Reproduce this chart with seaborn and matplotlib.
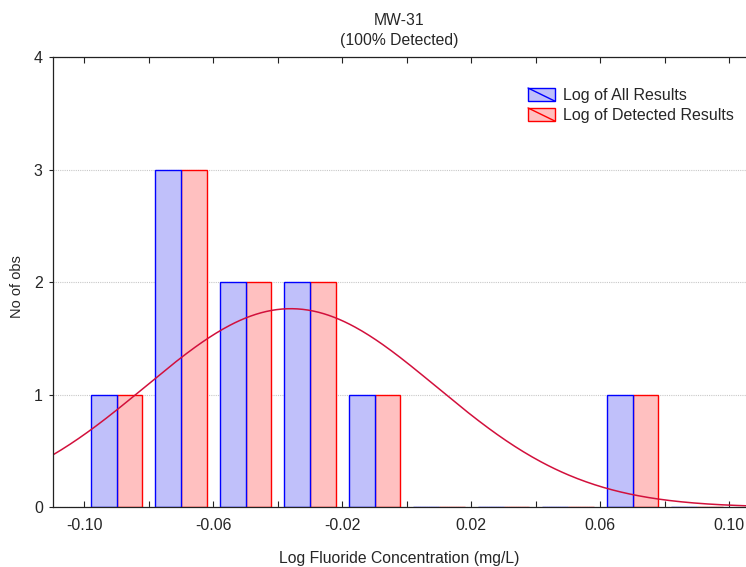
import numpy as np
import pandas as pd
import matplotlib.pyplot as plt
import seaborn as sns
from matplotlib.patches import Rectangle
from matplotlib.lines import Line2D
from matplotlib.legend_handler import HandlerPatch
from matplotlib.ticker import FixedLocator

# histogram bins (log10 fluoride, mg/L) and counts
bin_edges = [-0.10, -0.08, -0.06, -0.04, -0.02, 0.00, 0.02, 0.04, 0.06, 0.08, 0.10]
all_counts = [1, 3, 2, 2, 1, 0, 0, 0, 1, 0]
detected_counts = [1, 3, 2, 2, 1, 0, 0, 0, 1, 0]
series_names = ['Log of All Results', 'Log of Detected Results']

# fitted normal curve
fit_mean = -0.036
fit_sd = 0.0452
n_obs = 10

major_ticks = [-0.10, -0.06, -0.02, 0.02, 0.06, 0.10]
minor_ticks = [-0.08, -0.04, 0.00, 0.04, 0.08]
y_ticks = [0, 1, 2, 3, 4]

fill_colors = {series_names[0]: '#c0c0fa', series_names[1]: '#ffc0c0'}
edge_colors = {series_names[0]: '#0000ff', series_names[1]: '#ff0000'}

centers = [(a + b) / 2 for a, b in zip(bin_edges[:-1], bin_edges[1:])]
df = pd.DataFrame({
    'x': centers * 2,
    'count': all_counts + detected_counts,
    'series': [series_names[0]] * len(centers) + [series_names[1]] * len(centers),
})

sns.set_theme(style='white')
plt.rcParams['font.family'] = ['Liberation Sans', 'DejaVu Sans']
plt.rcParams['axes.unicode_minus'] = False

fig = plt.figure(figsize=(7.46, 5.67), dpi=100)
ax = fig.add_axes([0.0704, 0.1053, 1 - 0.0704, 0.899 - 0.1053])

sns.histplot(data=df, x='x', weights='count', hue='series', bins=bin_edges,
             multiple='dodge', shrink=0.8, palette=fill_colors, alpha=1,
             linewidth=1, legend=False, ax=ax, hue_order=series_names)

# edge colour per series
inv = {tuple(np.round(plt.matplotlib.colors.to_rgb(c), 3)): edge_colors[k] for k, c in fill_colors.items()}
for p in ax.patches:
    key = tuple(np.round(p.get_facecolor()[:3], 3))
    if key in inv:
        p.set_edgecolor(inv[key])

xlim = (-0.1099, 0.1052)
xs = np.linspace(xlim[0], xlim[1], 400)
ys = n_obs * 0.02 / (fit_sd * np.sqrt(2 * np.pi)) * np.exp(-0.5 * ((xs - fit_mean) / fit_sd) ** 2)
sns.lineplot(x=xs, y=ys, color='#d2103c', linewidth=1.1, ax=ax)

ax.set_xlim(*xlim)
ax.set_ylim(0, 4)
ax.xaxis.set_major_locator(FixedLocator(major_ticks))
ax.xaxis.set_minor_locator(FixedLocator(minor_ticks))
ax.set_xticklabels(['%.2f' % t for t in major_ticks])
ax.set_yticks(y_ticks)
ax.tick_params(axis='x', which='both', direction='in', length=4, width=0.8,
               top=True, bottom=True, labelsize=11.5, pad=7.5, color='#222222')
ax.tick_params(axis='y', direction='out', length=3, width=0.8, left=True,
               labelsize=11.5, pad=4, color='#222222')
ax.yaxis.grid(True, linestyle=(0, (1, 1)), color='#c8c8c8', linewidth=0.8)
ax.set_axisbelow(True)
for s in ['left', 'bottom', 'top']:
    ax.spines[s].set_color('#222222')
    ax.spines[s].set_linewidth(0.9)
ax.spines['right'].set_visible(False)

ax.set_xlabel('Log Fluoride Concentration (mg/L)', fontsize=11.3, labelpad=13)
ax.set_ylabel('No of obs', fontsize=10.5)
ax.yaxis.set_label_coords(-0.051, 0.49)
ax.yaxis.label.set_verticalalignment('center')
ax.set_title('MW-31\n(100% Detected)', fontsize=11.3, pad=9, linespacing=1.4)


class DiagHandler(HandlerPatch):
    def create_artists(self, legend, orig_handle, xdescent, ydescent, width, height, fontsize, trans):
        r = Rectangle((-xdescent, -ydescent), width, height,
                      facecolor=orig_handle.get_facecolor(), edgecolor=orig_handle.get_edgecolor(),
                      linewidth=1, transform=trans)
        ln = Line2D([-xdescent, -xdescent + width], [-ydescent + height, -ydescent],
                    color=orig_handle.get_edgecolor(), linewidth=1, transform=trans)
        return [r, ln]


handles = [Rectangle((0, 0), 1, 1, facecolor=fill_colors[n], edgecolor=edge_colors[n]) for n in series_names]
ax.legend(handles, series_names, loc='upper left', bbox_to_anchor=(528 / 746, 1 - 88 / 567),
          bbox_transform=fig.transFigure, frameon=False, fontsize=11.5, borderpad=0,
          borderaxespad=0, handlelength=1.7, handleheight=0.9, handletextpad=0.5,
          labelspacing=0.3, handler_map={Rectangle: DiagHandler()})

fig.savefig('out.png', dpi=100)
